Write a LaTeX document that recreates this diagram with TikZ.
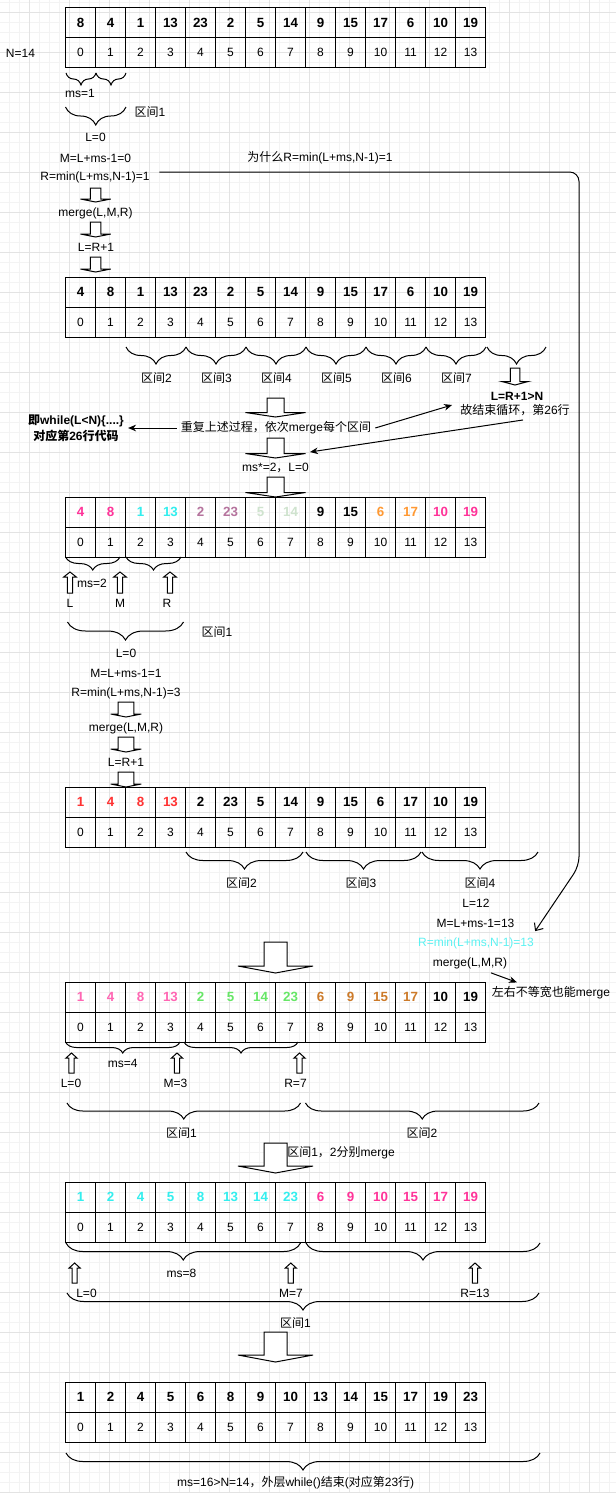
\documentclass[tikz,border=0pt]{standalone}
\usepackage{fontspec}
\setmainfont{Liberation Sans}
\newfontfamily\cjk{Noto Sans CJK SC}
\usetikzlibrary{arrows.meta,decorations.pathreplacing}
\newcommand{\zh}[1]{{\cjk #1}}
\definecolor{gmincol}{HTML}{F3F3F3}
\definecolor{gmajcol}{HTML}{E3E3E3}
\definecolor{pk}{HTML}{FF3399}
\definecolor{cy}{HTML}{33EEEE}
\definecolor{mv}{HTML}{B5739D}
\definecolor{lg}{HTML}{CFE3CE}
\definecolor{og}{HTML}{FF9933}
\definecolor{rd}{HTML}{FF3333}
\definecolor{pl}{HTML}{FF66B3}
\definecolor{gr}{HTML}{66E666}
\definecolor{br}{HTML}{CC7A29}
\definecolor{cytxt}{HTML}{5CF2F2}
\newcommand{\blkdown}[6]{\draw[blk] ({#1-#4},#2) -- ({#1+#4},#2) -- ({#1+#4},{#3-#6}) -- ({#1+#5},{#3-#6}) -- (#1,#3) -- ({#1-#5},{#3-#6}) -- ({#1-#4},{#3-#6}) -- cycle;}
\newcommand{\blkup}[6]{\draw[blk] (#1,#2) -- ({#1+#5},{#2+#6}) -- ({#1+#4},{#2+#6}) -- ({#1+#4},#3) -- ({#1-#4},#3) -- ({#1-#4},{#2+#6}) -- ({#1-#5},{#2+#6}) -- cycle;}
\tikzset{
  gmin/.style={gmincol,line width=0.75pt},
  gmaj/.style={gmajcol,line width=0.75pt},
  vcell/.style={draw,line width=0.75pt,minimum width=22.5pt,minimum height=22.5pt,inner sep=0pt,font=\fontsize{10}{12}\selectfont\bfseries},
  icell/.style={draw,line width=0.75pt,minimum width=22.5pt,minimum height=22.5pt,inner sep=0pt,font=\fontsize{9}{12}\selectfont},
  txt/.style={font=\fontsize{9}{12}\selectfont,inner sep=3pt},
  txtb/.style={font=\fontsize{9}{12}\selectfont\bfseries,inner sep=3pt},
  curly/.style={decorate,decoration={brace,mirror,amplitude=#1},line width=0.75pt},
  blk/.style={draw,fill=white,line width=0.75pt},
  conn/.style={line width=0.75pt,-{Stealth[length=6pt,width=5pt]}},
}
\begin{document}
\begin{tikzpicture}[x=0.75pt,y=-0.75pt]
  \useasboundingbox (0,0) rectangle (616,1493);
  \fill[white] (0,0) rectangle (616,1493);
  \foreach \k in {0,...,61} \draw[gmin] ({9+10*\k},0) -- ({9+10*\k},1493);
  \foreach \k in {0,...,149} \draw[gmin] (0,{2.7+10*\k}) -- (616,{2.7+10*\k});
  \foreach \k in {0,...,15} \draw[gmaj] ({29+40*\k},0) -- ({29+40*\k},1493);
  \foreach \k in {0,...,37} \draw[gmaj] (0,{12.7+40*\k}) -- (616,{12.7+40*\k});

  % first pass, ms=1
  \foreach \v [count=\i from 0] in {8,4,1,13,23,2,5,14,9,15,17,6,10,19} {
    \node[vcell] (a1v\i) at (80.5+30*\i,22.5) {\v};
    \node[icell] (a1i\i) at (80.5+30*\i,52.5) {\i};
  }
  \node[txt] (n14) at (20.5,53) {N=14};
  \draw[curly=9pt] (66,73) -- (96,73);
  \draw[curly=9pt] (96,73) -- (126,73);
  \node[txt] (ms1) at (80,93) {ms=1};
  \draw[curly=13.5pt] (65.5,107) -- (126,107);
  \node[txt] (q1a) at (150,112) {\zh{区间}1};
  \node[txt] (l0a) at (95.5,137) {L=0};
  \node[txt] (m0a) at (95.5,158) {M=L+ms-1=0};
  \node[txt] (r1) at (95,177) {R=min(L+ms,N-1)=1};
  \blkdown{95.6}{188}{202}{5.3}{15.2}{3}
  \node[txt] (mg1) at (95.5,213) {merge(L,M,R)};
  \blkdown{95.6}{222}{237}{5.3}{15.2}{3}
  \node[txt] (lr1) at (96,247) {L=R+1};
  \blkdown{95.6}{257}{272}{5.3}{15.2}{3}
  \node[txt] (why) at (320,158) {\zh{为什么}R=min(L+ms,N-1)=1};

  \foreach \v [count=\i from 0] in {4,8,1,13,23,2,5,14,9,15,17,6,10,19} {
    \node[vcell] (a2v\i) at (80.5+30*\i,292) {\v};
    \node[icell] (a2i\i) at (80.5+30*\i,322) {\i};
  }
  \foreach \k in {0,...,5} {
    \draw[curly=12.75pt] ({126+60*\k},347) -- ({186+60*\k},347);
    \node[txt] (q2\k) at ({156.5+60*\k},378) {\zh{区间}\pgfmathparse{int(\k+2)}\pgfmathresult};
  }
  \draw[curly=12.75pt] (487,347) -- (546,347);
  \blkdown{515}{368}{385}{4.75}{13.2}{3.5}
  \node[txtb] (stop) at (517,396) {L=R+1>N};
  \node[txt] (fin) at (515,410) {\zh{故结束循环，第}26\zh{行}};
  \blkdown{275.5}{398}{417}{8.5}{30}{4.5}
  \node[txt] (rep) at (276,428) {\zh{重复上述过程，依次}merge\zh{每个区间}};
  \node[txtb,align=center] (whl) at (76,428) {\zh{即}while(L<N)\{....\}\\\zh{对应第}26\zh{行代码}};
  \blkdown{275.5}{438}{458}{8.5}{30}{4.5}
  \node[txt] (ms2) at (275.5,468) {ms*=2\zh{，}L=0};
  \coordinate (bk2) at (310,452);
  \draw[conn] (rep.west) -- (whl.east);
  \draw[conn] (rep.east) -- ([shift={(-4,-5)}]fin.west);
  \draw[conn] ([shift={(8,0)}]fin.south) -- (bk2);
  \blkdown{275.5}{477}{497}{8.5}{30}{4.5}

  % ms=2
  \foreach \v/\c [count=\i from 0] in {4/pk,8/pk,1/cy,13/cy,2/mv,23/mv,5/lg,14/lg,9/black,15/black,6/og,17/og,10/pk,19/pk} {
    \node[vcell,text=\c] (a3v\i) at (80.5+30*\i,512) {\v};
    \node[icell] (a3i\i) at (80.5+30*\i,542) {\i};
  }
  \draw[curly=9.75pt] (65.5,557) -- (120,557);
  \draw[curly=9.75pt] (126,557) -- (181,557);
  \blkup{70}{572}{593}{2.7}{6.3}{5}
  \blkup{120}{572}{593}{2.7}{6.3}{5}
  \blkup{170}{572}{593}{2.7}{6.3}{5}
  \node[txt] (ms3) at (92,583) {ms=2};
  \node[txt] (l3) at (70,603) {L};
  \node[txt] (m3) at (120,603) {M};
  \node[txt] (r3) at (167,603) {R};
  \draw[curly=13.5pt] (67.5,622) -- (183.5,622);
  \node[txt] (q3a) at (217,632) {\zh{区间}1};
  \node[txt] (l0b) at (126,653) {L=0};
  \node[txt] (m1b) at (126,673) {M=L+ms-1=1};
  \node[txt] (r3b) at (126,693) {R=min(L+ms,N-1)=3};
  \blkdown{126}{702}{717}{7.8}{15.3}{3}
  \node[txt] (mg3) at (126,728) {merge(L,M,R)};
  \blkdown{126}{737}{752}{7.8}{15.3}{3}
  \node[txt] (lr3) at (126,762) {L=R+1};
  \blkdown{126}{772}{787}{7.8}{15.3}{3}

  \foreach \v/\c [count=\i from 0] in {1/rd,4/rd,8/rd,13/rd,2/black,23/black,5/black,14/black,9/black,15/black,6/black,17/black,10/black,19/black} {
    \node[vcell,text=\c] (a4v\i) at (80.5+30*\i,802) {\v};
    \node[icell] (a4i\i) at (80.5+30*\i,832) {\i};
  }
  \draw[curly=12.75pt] (186,852) -- (303,852);
  \draw[curly=12.75pt] (306,852) -- (421,852);
  \draw[curly=12.75pt] (422,852) -- (538,852);
  \node[txt] (q4a) at (241.5,883) {\zh{区间}2};
  \node[txt] (q4b) at (361,883) {\zh{区间}3};
  \node[txt] (q4c) at (480,883) {\zh{区间}4};
  \node[txt] (l12) at (476,903) {L=12};
  \node[txt] (m13) at (475.5,923) {M=L+ms-1=13};
  \node[txt,text=cytxt] (r13) at (476,943) {R=min(L+ms,N-1)=13};
  \node[txt] (m5) at (470,963) {merge(L,M,R)};
  \node[txt] (nt) at (551,993) {\zh{左右不等宽也能}merge};
  \draw[conn] ([shift={(21,0)}]m5.south) -- ([shift={(-34,0)}]nt.north);
  \draw[line width=0.75pt,rounded corners=7,-{Straight Barb[length=4.5pt,width=8pt]}] ([shift={(5.5,-5)}]r1.east) -- (579,172) -- (579,866) -- ([shift={(-3,-2)}]r13.north east);
  \blkdown{275.5}{942}{973}{11.5}{37.5}{7}

  % ms=4
  \foreach \v/\c [count=\i from 0] in {1/pl,4/pl,8/pl,13/pl,2/gr,5/gr,14/gr,23/gr,6/br,9/br,15/br,17/br,10/black,19/black} {
    \node[vcell,text=\c] (a5v\i) at (80.5+30*\i,997) {\v};
    \node[icell] (a5i\i) at (80.5+30*\i,1027) {\i};
  }
  \draw[curly=8.25pt] (65.5,1042) -- (180,1042);
  \draw[curly=8.25pt] (184,1042) -- (298,1042);
  \blkup{71.5}{1053}{1073}{2.6}{5.5}{5}
  \blkup{177}{1053}{1073}{2.6}{5.5}{5}
  \blkup{299.5}{1053}{1073}{2.6}{5.5}{5}
  \node[txt] (ms5) at (122.8,1063) {ms=4};
  \node[txt] (l5) at (71,1083) {L=0};
  \node[txt] (m5b) at (175.5,1083) {M=3};
  \node[txt] (r5) at (295.5,1083) {R=7};
  \draw[curly=12pt] (67,1103) -- (300.5,1103);
  \draw[curly=12pt] (305.5,1103) -- (539,1103);
  \node[txt] (q5a) at (181.5,1133) {\zh{区间}1};
  \node[txt] (q5b) at (422,1133) {\zh{区间}2};
  \blkdown{275.5}{1143}{1173}{11.5}{37.5}{7}
  \node[txt] (sep) at (341,1153) {\zh{区间}1\zh{，}2\zh{分别}merge};

  % ms=8
  \foreach \v/\c [count=\i from 0] in {1/cy,2/cy,4/cy,5/cy,8/cy,13/cy,14/cy,23/cy,6/pk,9/pk,10/pk,15/pk,17/pk,19/pk} {
    \node[vcell,text=\c] (a6v\i) at (80.5+30*\i,1197) {\v};
    \node[icell] (a6i\i) at (80.5+30*\i,1227) {\i};
  }
  \draw[curly=12.75pt] (66,1243) -- (300.5,1243);
  \draw[curly=12.75pt] (306,1243) -- (540,1243);
  \blkup{74.6}{1263}{1283}{2.6}{5.5}{5}
  \blkup{290.8}{1263}{1283}{2.6}{5.5}{5}
  \blkup{475}{1263}{1283}{2.6}{5.5}{5}
  \node[txt] (ms6) at (181.5,1273) {ms=8};
  \node[txt] (l6) at (86.5,1293) {L=0};
  \node[txt] (m6) at (291,1293) {M=7};
  \node[txt] (r6) at (475,1293) {R=13};
  \draw[curly=12.75pt] (67,1293) -- (539,1293);
  \node[txt] (q6a) at (295.5,1323) {\zh{区间}1};
  \blkdown{275.5}{1332}{1362}{11.5}{37.5}{7}

  \foreach \v [count=\i from 0] in {1,2,4,5,6,8,9,10,13,14,15,17,19,23} {
    \node[vcell] (a7v\i) at (80.5+30*\i,1397) {\v};
    \node[icell] (a7i\i) at (80.5+30*\i,1427) {\i};
  }
  \draw[curly=12.75pt] (66,1453) -- (540,1453);
  \node[txt] (end) at (295.7,1483) {ms=16>N=14\zh{，外层}while()\zh{结束}(\zh{对应第}23\zh{行})};
\end{tikzpicture}
\end{document}
